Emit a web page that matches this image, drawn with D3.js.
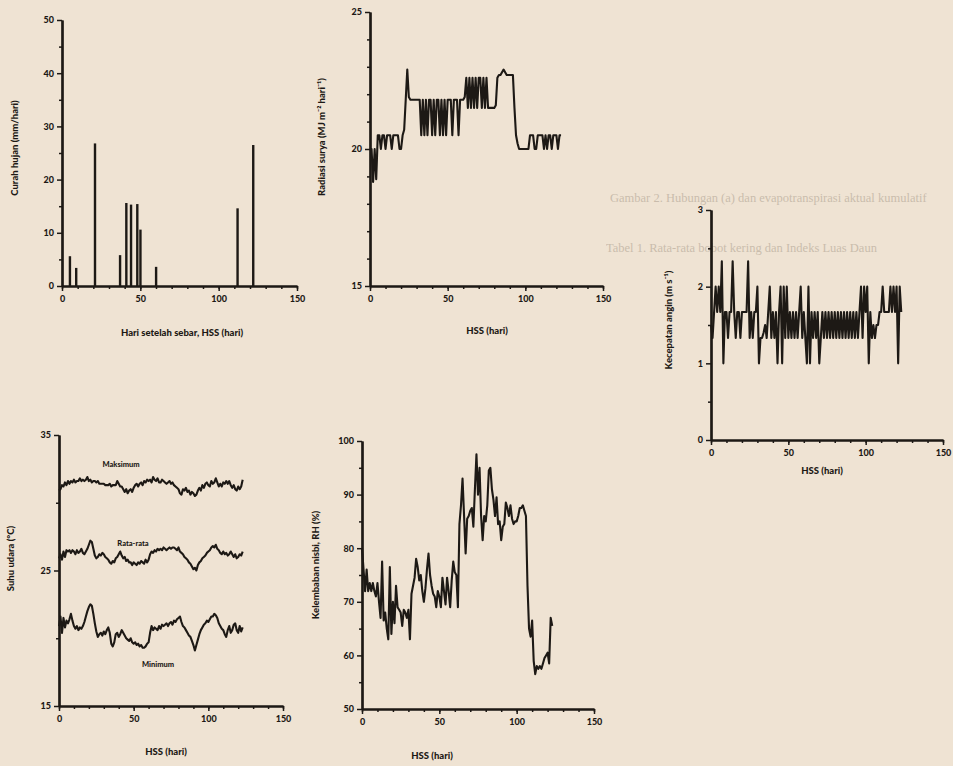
<!DOCTYPE html>
<html lang="id">
<head>
<meta charset="utf-8">
<title>Unsur iklim selama pertumbuhan</title>
<script src="https://cdn.jsdelivr.net/npm/d3@7"></script>
<style>
    body { margin: 0; background: #efe3d3; }
    .lbl { font-family: Lato, "DejaVu Sans", sans-serif; font-weight: 900; fill: #1d1915; }
    .ghost { font-family: "Liberation Serif", serif; fill: #9c8f7e; opacity: 0.45; }
</style>
</head>
<body>
<script>
// Curah hujan: hari hujan dan jumlahnya (mm/hari)
var hariHujan  = [5, 9, 21, 37, 41, 44, 48, 50, 60, 112, 122];
var curahHujan = [5.6, 3.4, 26.8, 5.8, 15.6, 15.3, 15.4, 10.6, 3.6, 14.6, 26.5];

// Radiasi surya harian (MJ m-2 hari-1), hari ke-0 sampai 123
var radiasi = [20, 20, 18.8, 20, 18.9, 20.5, 20.5, 20, 20.5, 20.5,
    20, 20.5, 20.5, 20.5, 20, 20.5, 20.5, 20.5, 20.5, 20,
    20, 20.5, 20.7, 21.8, 22.9, 21.9, 21.8, 21.8, 21.8, 21.8,
    21.8, 21.8, 21.8, 20.5, 21.8, 20.5, 21.8, 20.5, 21.8, 21.8,
    20.5, 21.8, 20.5, 21.8, 21.8, 20.5, 21.8, 20.5, 21.8, 20.5,
    21.8, 21.8, 21.8, 20.5, 21.8, 21.8, 21.8, 20.5, 21.8, 21.8,
    21.8, 21.9, 22.6, 21.5, 22.6, 21.5, 22.6, 21.5, 22.6, 21.5,
    22.6, 22.6, 21.5, 22.6, 21.5, 22.6, 21.5, 21.5, 21.5, 21.5,
    21.5, 21.6, 22.6, 22.7, 22.7, 22.8, 22.9, 22.8, 22.7, 22.7,
    22.7, 22.7, 22.7, 21.5, 20.5, 20.2, 20, 20, 20, 20,
    20, 20, 20, 20.5, 20.5, 20.5, 20, 20, 20.5, 20.5,
    20.5, 20.5, 20, 20.5, 20, 20.5, 20.5, 20, 20.5, 20.5,
    20.5, 20, 20.5, 20.5];

// Kecepatan angin harian (m s-1)
var angin = [1.5, 1.33, 1.67, 2, 1.67, 2, 1.67, 2.33, 1, 1.67,
    1.67, 1.33, 1.67, 1.67, 2.33, 1.67, 1.33, 1.67, 1.67, 1.33,
    1.67, 1.67, 1.67, 1.67, 2.33, 1.33, 1.67, 1.33, 1.67, 1.67,
    2, 1, 1.33, 1.33, 1.4, 1.5, 1.33, 1.67, 2, 1.33,
    1.67, 1.33, 1.67, 1, 1.67, 2, 1, 2, 1.33, 2,
    1.33, 1.67, 1.33, 1.67, 1.33, 1.67, 1.33, 1.67, 2, 1.33,
    1.67, 1.33, 1, 2, 1, 1.67, 1.33, 1.67, 1.33, 1.67,
    1, 1.33, 1.67, 1.33, 1.67, 1.33, 1.67, 1.33, 1.67, 1.33,
    1.67, 1.33, 1.67, 1.33, 1.67, 1.33, 1.67, 1.33, 1.67, 1.33,
    1.67, 1.33, 1.67, 1.33, 1.67, 1.33, 1.67, 2, 1.33, 2,
    1.67, 2, 1, 1.67, 1.33, 1.5, 1.33, 1.5, 1.5, 1.67,
    1.67, 2, 1.67, 1.67, 1.67, 1.67, 2, 1.67, 2, 1.67,
    2, 1, 2, 1.67];

// Suhu udara harian (C): maksimum, rata-rata, minimum
var suhuMaks = [30.9, 31.0, 31.3, 31.2, 31.5, 31.3, 31.6, 31.4, 31.6, 31.5,
    31.7, 31.5, 31.6, 31.6, 31.8, 31.6, 31.7, 31.6, 31.7, 31.9,
    31.6, 31.7, 31.5, 31.6, 31.6, 31.5, 31.6, 31.4, 31.4, 31.4,
    31.4, 31.3, 31.3, 31.3, 31.4, 31.2, 31.3, 31.3, 31.3, 31.6,
    31.4, 31.2, 31.2, 31.0, 30.8, 31.0, 30.7, 30.9, 31.0, 30.8,
    31.1, 31.3, 31.4, 31.2, 31.4, 31.5, 31.3, 31.6, 31.5, 31.7,
    31.6, 31.7, 31.5, 31.9, 31.7, 31.6, 31.8, 31.5, 31.5, 31.7,
    31.6, 31.5, 31.4, 31.5, 31.6, 31.4, 31.5, 31.3, 31.2, 31.1,
    31.0, 30.7, 30.6, 31.0, 30.9, 31.1, 30.8, 30.9, 30.6, 30.8,
    30.7, 30.5, 30.6, 30.9, 31.1, 30.9, 31.3, 31.1, 31.4, 31.5,
    31.3, 31.2, 31.6, 31.4, 31.5, 31.8, 31.5, 31.2, 31.4, 31.2,
    31.5, 31.4, 31.6, 31.4, 31.6, 31.3, 31.1, 31.3, 31.0, 30.9,
    31.2, 31.0, 31.2, 31.7];
var suhuRata = [25.9, 26.2, 25.8, 26.4, 26.0, 26.5, 26.4, 26.5, 26.3, 26.5,
    26.4, 26.2, 26.5, 26.3, 26.4, 26.6, 26.3, 26.2, 26.4, 26.6,
    26.9, 27.2, 27.1, 26.6, 26.1, 25.9, 26.0, 26.2, 26.1, 26.3,
    26.2, 26.0, 25.9, 25.8, 25.6, 25.5, 25.7, 25.6, 25.9, 26.0,
    26.2, 26.4, 26.1, 25.9, 26.0, 25.7, 25.8, 25.6, 25.6, 25.4,
    25.6, 25.5, 25.4, 25.6, 25.5, 25.7, 25.6, 25.5, 25.8, 25.6,
    25.8, 26.2, 26.4, 26.3, 26.5, 26.4, 26.6, 26.5, 26.6, 26.5,
    26.7, 26.6, 26.5, 26.6, 26.7, 26.6, 26.7, 26.7, 26.6, 26.5,
    26.7, 26.4, 26.3, 26.2, 26.0, 25.9, 25.8, 25.6, 25.5, 25.3,
    25.1, 25.2, 25.0, 25.4, 25.6, 25.7, 25.9, 26.0, 26.1, 26.3,
    26.4, 26.5, 26.7, 26.8, 26.7, 26.9, 26.6, 26.5, 26.3, 26.2,
    26.4, 26.2, 26.3, 26.1, 26.2, 26.4, 26.2, 26.0, 26.2, 25.9,
    26.0, 26.2, 26.1, 26.4];
var suhuMin = [20.9, 21.6, 20.4, 21.5, 20.8, 21.3, 21.1, 21.4, 21.8, 21.3,
    20.9, 20.7, 20.9, 20.6, 20.8, 20.7, 20.9, 21.2, 21.6, 22.0,
    22.3, 22.5, 22.4, 21.8, 21.1, 20.5, 20.1, 20.3, 20.4, 20.2,
    20.5, 20.3, 20.6, 20.8, 20.4, 19.6, 19.4, 19.7, 20.3, 20.4,
    20.1, 20.3, 20.6, 20.4, 20.2, 20.0, 19.9, 19.8, 20.0, 19.7,
    19.6, 19.7, 19.5, 19.6, 19.4, 19.5, 19.3, 19.3, 19.4, 19.6,
    19.7, 20.4, 20.9, 20.6, 20.8, 20.7, 20.6, 20.9, 20.7, 21.0,
    20.9, 21.0, 21.1, 20.9, 21.1, 21.2, 21.0, 21.3, 21.2, 21.4,
    21.5, 21.6, 21.2, 20.9, 20.8, 20.6, 20.4, 20.2, 20.1, 19.8,
    19.5, 19.1, 19.5, 19.9, 20.3, 20.6, 20.8, 21.0, 21.1, 21.3,
    21.2, 21.4, 21.6, 21.6, 21.8, 21.7, 21.5, 21.1, 20.9, 20.7,
    20.6, 20.3, 20.1, 20.6, 20.9, 20.4, 20.6, 21.0, 21.1, 20.6,
    20.4, 20.9, 20.5, 20.8];

// Kelembaban nisbi harian (%)
var rh = [80, 76, 72, 76, 72, 73.5, 72, 73.5, 72, 71,
    73.5, 70, 67, 77.5, 66.5, 68, 65, 63, 76.5, 64,
    70, 66, 73, 69, 68.5, 68, 65.5, 68.5, 68, 67,
    68.5, 63, 71.5, 73, 74.5, 78, 76.5, 74, 75, 72,
    70, 72.5, 76, 79, 75, 73, 71.5, 71, 69, 72,
    71, 69, 74.5, 72, 69.5, 74.5, 72, 69, 74, 77.5,
    75.5, 75, 69, 84.5, 88, 93, 86, 79, 85.5, 86,
    87, 87.5, 84, 91, 97.5, 90, 95, 86, 81.5, 86,
    85, 88, 94.5, 95, 91, 89, 86, 89.5, 84.5, 85,
    81.5, 84, 84.5, 88.5, 87.5, 86, 88, 85.5, 84.5, 85,
    85, 86, 87.5, 87.5, 88, 87, 86, 73, 65, 63.5,
    66.5, 59, 56.5, 58, 57.5, 58, 57.5, 58.5, 59.5, 60,
    60.5, 58.5, 67, 65.5];

var hssTicks = [0, 50, 100, 150];

var w = 953;
var h = 766;
var ink = "#1d1915";

var svg = d3.select("body")
            .append("svg")
            .attr("width", w)
            .attr("height", h);

// faint text showing through from the other side of the page
var ghostText = [
    ["Gambar 2. Hubungan (a) dan evapotranspirasi aktual kumulatif", 610, 202],
    ["Tabel 1. Rata-rata bobot kering dan Indeks Luas Daun", 606, 252]
];
ghostText.forEach(function(t) {
    svg.append("text").attr("class", "ghost")
        .attr("x", t[1]).attr("y", t[2])
        .attr("font-size", 12.5)
        .text(t[0]);
});

// one panel: axes with major + minor ticks, labels
function panel(p) {
    var x = d3.scaleLinear().domain([0, 150]).range([p.left, p.right]);
    var y = d3.scaleLinear().domain(p.yDomain).range([p.bottom, p.top]);
    var g = svg.append("g");

    // minor ticks
    g.append("g")
        .attr("transform", "translate(0," + p.bottom + ")")
        .call(d3.axisBottom(x).tickValues(d3.range(0, 151, 10)).tickSize(3).tickSizeOuter(0).tickFormat(""));
    g.append("g")
        .attr("transform", "translate(" + p.left + ",0)")
        .call(d3.axisLeft(y).tickValues(p.yMinor).tickSize(3).tickSizeOuter(0).tickFormat(""));

    // major ticks
    g.append("g")
        .attr("transform", "translate(0," + p.bottom + ")")
        .call(d3.axisBottom(x).tickValues(hssTicks).tickSize(5).tickSizeOuter(0).tickPadding(5)
            .tickFormat(d3.format("d")));
    g.append("g")
        .attr("transform", "translate(" + p.left + ",0)")
        .call(d3.axisLeft(y).tickValues(p.yMajor).tickSize(5).tickSizeOuter(0).tickPadding(3)
            .tickFormat(d3.format("d")));

    g.selectAll(".domain").attr("stroke", ink).attr("stroke-width", 2.2);
    g.selectAll(".tick line").attr("stroke", ink).attr("stroke-width", 1.5);
    g.selectAll(".tick text").attr("class", "lbl").attr("font-size", 9);

    // axis titles
    g.append("text").attr("class", "lbl")
        .attr("text-anchor", "middle")
        .attr("font-size", 9.5)
        .attr("transform", "translate(" + p.yTitleX + "," + ((p.top + p.bottom) / 2 + p.yTitleShift) + ") rotate(-90)")
        .text(p.yTitle);
    g.append("text").attr("class", "lbl")
        .attr("text-anchor", "middle")
        .attr("font-size", 9.5)
        .attr("x", p.xTitleX)
        .attr("y", p.xTitleY)
        .text(p.xTitle);

    return { x: x, y: y, g: g };
}

function trace(pn, values) {
    var line = d3.line()
        .x(function(d, i) { return pn.x(i); })
        .y(function(d) { return pn.y(d); });
    pn.g.append("path")
        .datum(values)
        .attr("fill", "none")
        .attr("stroke", ink)
        .attr("stroke-width", 2.1)
        .attr("stroke-linejoin", "round")
        .attr("d", line);
}

// Curah hujan
var p1 = panel({ left: 62, right: 297, top: 20, bottom: 286, yDomain: [0, 50],
    yMajor: [0, 10, 20, 30, 40, 50], yMinor: [5, 15, 25, 35, 45],
    yTitle: "Curah hujan (mm/hari)", yTitleX: 18, yTitleShift: -5,
    xTitle: "Hari setelah sebar, HSS (hari)", xTitleX: 182, xTitleY: 336 });
p1.g.selectAll("rect.hujan")
    .data(hariHujan)
    .enter()
    .append("rect")
    .attr("x", function(d) { return p1.x(d) - 1.1; })
    .attr("width", 2.4)
    .attr("y", function(d, i) { return p1.y(curahHujan[i]); })
    .attr("height", function(d, i) { return p1.y(0) - p1.y(curahHujan[i]); })
    .attr("fill", ink);

// Radiasi surya
var p2 = panel({ left: 370, right: 603, top: 12, bottom: 286, yDomain: [15, 25],
    yMajor: [15, 20, 25], yMinor: [16, 17, 18, 19, 21, 22, 23, 24],
    yTitle: "Radiasi surya (MJ m\u207B\u00B2 hari\u207B\u00B9)", yTitleX: 325, yTitleShift: -12,
    xTitle: "HSS (hari)", xTitleX: 487, xTitleY: 334 });
trace(p2, radiasi);

// Kecepatan angin
var p3 = panel({ left: 711, right: 943, top: 210, bottom: 440, yDomain: [0, 3],
    yMajor: [0, 1, 2, 3], yMinor: [0.5, 1.5, 2.5],
    yTitle: "Kecepatan angin (m s\u207B\u00B9)", yTitleX: 672, yTitleShift: -5,
    xTitle: "HSS (hari)", xTitleX: 822, xTitleY: 474 });
trace(p3, angin);

// Suhu udara
var p4 = panel({ left: 59, right: 283, top: 435, bottom: 706, yDomain: [15, 35],
    yMajor: [15, 25, 35], yMinor: [20, 30],
    yTitle: "Suhu udara (\u00B0C)", yTitleX: 14, yTitleShift: -12,
    xTitle: "HSS (hari)", xTitleX: 166, xTitleY: 755 });
trace(p4, suhuMaks);
trace(p4, suhuRata);
trace(p4, suhuMin);
var seriesNames = [["Maksimum", 121, 467], ["Rata-rata", 133, 546], ["Minimum", 158, 667]];
seriesNames.forEach(function(s) {
    p4.g.append("text").attr("class", "lbl")
        .attr("x", s[1]).attr("y", s[2])
        .attr("text-anchor", "middle")
        .attr("font-size", 7.5)
        .text(s[0]);
});

// Kelembaban nisbi
var p5 = panel({ left: 362, right: 594, top: 441, bottom: 709, yDomain: [50, 100],
    yMajor: [50, 60, 70, 80, 90, 100], yMinor: [55, 65, 75, 85, 95],
    yTitle: "Kelembaban nisbi, RH (%)", yTitleX: 319, yTitleShift: -10,
    xTitle: "HSS (hari)", xTitleX: 432, xTitleY: 759 });
trace(p5, rh);
</script>
</body>
</html>
